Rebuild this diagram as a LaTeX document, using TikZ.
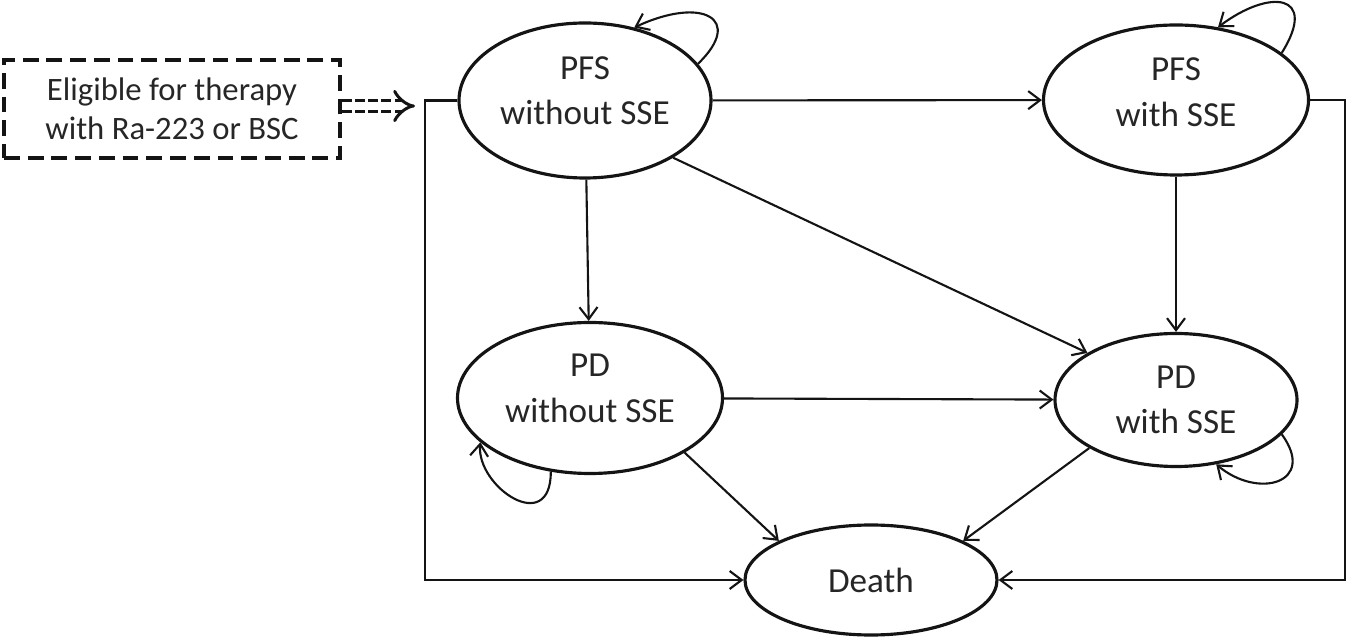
\documentclass[tikz,border=0pt]{standalone}
\usepackage{fontspec}
\setmainfont{Carlito}
\usepackage{tikz}
\usetikzlibrary{arrows.meta,calc,positioning,shapes.geometric}
\definecolor{Ink}{HTML}{141414}
\definecolor{TextInk}{HTML}{262626}
\newcommand{\textlift}[1]{\rule[-#1]{0pt}{0pt}}

\begin{document}
\begin{tikzpicture}[
  state/.style={draw=Ink,ellipse,line width=1.8pt,inner sep=0pt,align=center,text=TextInk,font=\fontsize{20}{26}\selectfont},
  entrybox/.style={draw=Ink,dash pattern=on 9pt off 4.5pt,line width=2.2pt,minimum width=6.72cm,minimum height=1.96cm,align=center,text=TextInk,font=\fontsize{18.6}{22}\selectfont},
  arr/.style={-{Straight Barb[length=2.4mm,width=3.6mm]},draw=Ink,line width=1.2pt},
  entryarr/.style={-{Implies},draw=Ink,dash pattern=on 5.5pt off 2pt,double,double distance=4.6pt,line width=1.7pt}
]
\useasboundingbox (0,0) rectangle (27.02,-12.8);

\node[entrybox] (elig) at (3.44,-2.18) {Eligible for therapy\\with Ra-223 or BSC};
\node[state,minimum width=5.04cm,minimum height=3.10cm] (pfs0) at (11.70,-2.01) {PFS\\without SSE\textlift{0.4cm}};
\node[state,minimum width=5.30cm,minimum height=3.00cm] (pfs1) at (23.52,-2.00) {PFS\\with SSE\textlift{0.32cm}};
\node[state,minimum width=5.30cm,minimum height=3.02cm] (pd0) at (11.80,-7.96) {PD\\without SSE\textlift{0.4cm}};
\node[state,minimum width=4.84cm,minimum height=2.66cm] (pd1) at (23.52,-8.00) {PD\\with SSE};
\node[state,minimum width=5.04cm,minimum height=2.20cm] (death) at (17.42,-11.60) {Death};

\coordinate (entry) at (8.30,-2.12);
\coordinate (lcorner) at (8.50,-2.01);
\coordinate (rcorner) at (26.90,-2.00);

\draw[entryarr] (elig.east |- entry) -- (entry);

\draw[arr] (pfs0) -- (pfs1);
\draw[arr] (pfs0) -- (pd0);
\draw[arr] (pfs0.-33) -- (pd1.152);
\draw[arr] (pfs1) -- (pd1);
\draw[arr] (pd0) -- (pd1);
\draw[arr] (pd0.-30) -- (death.157);
\draw[arr] (pd1.209) -- (death.23);
\draw[arr] (pfs0.west) -- (lcorner) |- (death.west);
\draw[arr] (pfs1.east) -- (rcorner) |- (death.east);

% self loops
\draw[arr] (pfs0.18) .. controls +(44:1.3) and +(25:1.5) .. (pfs0.56);
\draw[arr] (pfs1.24) .. controls +(58:1.4) and +(37:1.3) .. (pfs1.60);
\draw[arr] (pd0.242) .. controls +(-90:1.3) and +(-95:0.9) .. (pd0.202);
\draw[arr] (pd1.-18) .. controls +(-54:1.2) and +(-40:1.1) .. (pd1.-58);
\end{tikzpicture}
\end{document}
